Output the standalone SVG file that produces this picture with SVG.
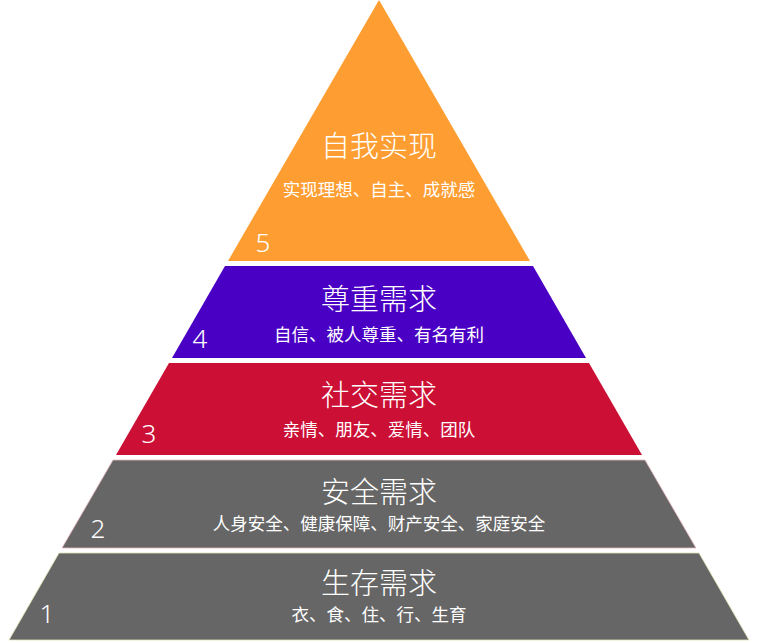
<svg xmlns="http://www.w3.org/2000/svg" width="758" height="643" viewBox="0 0 758 643">
<style>
.t{font-family:"Noto Sans CJK SC","Noto Sans",sans-serif;fill:#ffffff;text-anchor:middle;font-size:29px;font-weight:300}
.s{font-family:"Noto Sans CJK SC","Noto Sans",sans-serif;fill:#ffffff;text-anchor:middle;font-size:17.5px}
.n{font-family:"Noto Sans","Open Sans",sans-serif;fill:#ffffff;text-anchor:middle;font-size:26px;font-weight:300}
</style>
<rect width="758" height="643" fill="#ffffff"/>
<g id="layer5">
<polygon points="379,0 530,261 228,261" fill="#FE9E32"/>
<text class="t" x="379" y="157">自我实现</text>
<text class="s" x="379" y="196">实现理想、自主、成就感</text>
<text class="n" x="263" y="252">5</text>
</g>
<g id="layer4">
<polygon points="225,266 533,266 586,358 172,358" fill="#4A00C4"/>
<text class="t" x="379" y="310">尊重需求</text>
<text class="s" x="379" y="341">自信、被人尊重、有名有利</text>
<text class="n" x="200" y="348">4</text>
</g>
<g id="layer3">
<polygon points="169,363 589,363 642,455 116,455" fill="#CC0F35"/>
<text class="t" x="379" y="406">社交需求</text>
<text class="s" x="379" y="436">亲情、朋友、爱情、团队</text>
<text class="n" x="149" y="443">3</text>
</g>
<g id="layer2">
<polygon points="113,460 645,460 696,548 62,548" fill="#666666" stroke="#e9b9bf" stroke-width="0.8"/>
<text class="t" x="379" y="503">安全需求</text>
<text class="s" x="379" y="530">人身安全、健康保障、财产安全、家庭安全</text>
<text class="n" x="98" y="538">2</text>
</g>
<g id="layer1">
<polygon points="59,553 699,553 749,640 9,640" fill="#666666" stroke="#e4e4b8" stroke-width="0.8"/>
<text class="t" x="379" y="594">生存需求</text>
<text class="s" x="379" y="621">衣、食、住、行、生育</text>
<text class="n" x="47" y="623">1</text>
</g>
</svg>
